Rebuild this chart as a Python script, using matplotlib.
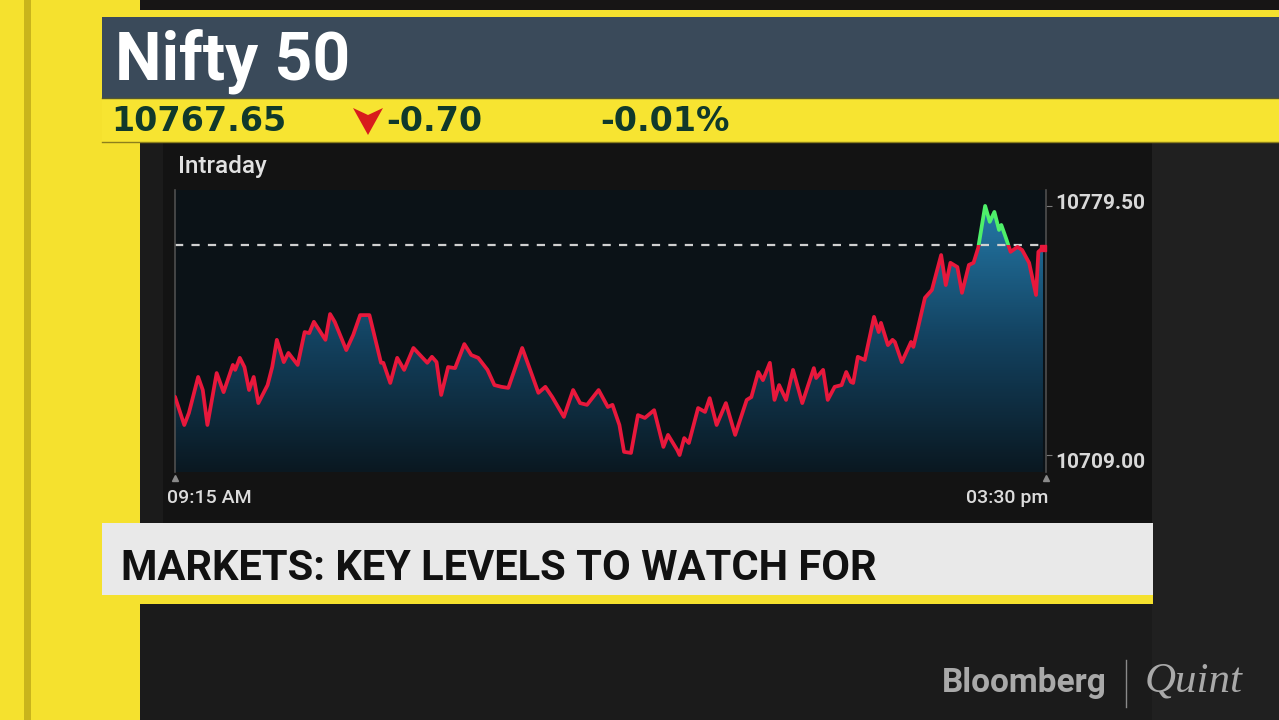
import numpy as np
import matplotlib.pyplot as plt
import matplotlib.transforms as mtransforms
from matplotlib.patches import Rectangle, Polygon
from matplotlib.colors import LinearSegmentedColormap

# quote header
index_name = 'Nifty 50'
last_price = 10767.65
change = -0.70
change_pct = -0.01
prev_close = last_price - change
day_high = 10779.50
day_low = 10709.00
banner = 'MARKETS: KEY LEVELS TO WATCH FOR'
time_labels = ['09:15 AM', '03:30 pm']

# intraday series, minutes after 09:15
minutes = [0, 4, 6, 10, 12, 14, 18, 21, 25, 26,
           28, 30, 32, 34, 36, 40, 42, 44, 47, 49,
           53, 56, 58, 60, 65, 67, 69, 74, 77, 80,
           84, 89, 90, 93, 96, 99, 103, 109, 111, 113,
           115, 118, 121, 125, 128, 131, 135, 138, 141, 144,
           150, 153, 157, 160, 163, 168, 172, 175, 178, 183,
           187, 189, 192, 194, 197, 200, 203, 207, 211, 213,
           217, 218, 220, 222, 226, 229, 231, 234, 238, 242,
           247, 249, 252, 254, 257, 259, 261, 264, 267, 271,
           276, 277, 280, 282, 285, 288, 290, 292, 293, 295,
           298, 302, 304, 305, 308, 310, 311, 314, 318, 319,
           321, 324, 327, 331, 333, 335, 338, 340, 343, 345,
           347, 350, 352, 354, 356, 357, 359, 361, 364, 366,
           369, 372, 373, 375]
levels = [10725.5, 10717.5, 10720.9, 10731.1, 10727.4, 10717.5, 10732.2, 10726.8, 10734.5, 10733.1,
          10736.5, 10733.9, 10727.4, 10731.1, 10723.7, 10728.8, 10733.9, 10741.6, 10735.3, 10737.9,
          10734.5, 10743.8, 10743.5, 10746.7, 10741.6, 10748.9, 10746.7, 10738.7, 10743.0, 10748.6,
          10748.6, 10735.1, 10735.1, 10729.4, 10736.5, 10733.1, 10739.3, 10735.1, 10736.8, 10735.3,
          10726.0, 10733.9, 10733.6, 10740.4, 10737.3, 10736.5, 10733.1, 10728.8, 10728.3, 10728.0,
          10739.3, 10733.9, 10726.6, 10728.3, 10725.4, 10719.8, 10727.4, 10723.7, 10723.2, 10727.4,
          10722.6, 10723.2, 10717.5, 10709.9, 10709.6, 10720.3, 10719.5, 10721.7, 10711.3, 10714.7,
          10710.4, 10709.0, 10713.8, 10712.4, 10722.3, 10721.2, 10725.1, 10717.5, 10723.7, 10714.7,
          10724.6, 10725.4, 10732.5, 10730.2, 10735.1, 10724.6, 10728.8, 10724.6, 10733.1, 10723.7,
          10733.6, 10730.8, 10733.1, 10724.6, 10728.3, 10728.8, 10732.5, 10729.7, 10729.4, 10736.8,
          10735.9, 10748.1, 10743.8, 10746.4, 10740.1, 10741.6, 10741.0, 10735.3, 10741.0, 10739.6,
          10745.0, 10753.5, 10755.7, 10765.6, 10757.1, 10763.4, 10762.2, 10754.9, 10762.8, 10763.4,
          10767.6, 10779.5, 10775.0, 10777.8, 10772.7, 10774.1, 10770.4, 10766.5, 10767.9, 10767.0,
          10763.4, 10754.3, 10766.5, 10767.65]

YELLOW = '#f5e12e'
fig = plt.figure(figsize=(12.79, 7.2), dpi=100)
fig.patch.set_facecolor('#1b1b1b')

# background layer in pixel coordinates
bg = fig.add_axes([0, 0, 1, 1], zorder=0)
bg.set_xlim(0, 1279)
bg.set_ylim(720, 0)
bg.axis('off')

def box(x, y, w, h, c, z=1):
    bg.add_patch(Rectangle((x, y), w, h, facecolor=c, edgecolor='none', zorder=z))

box(140, 0, 1139, 10, '#171515')
box(0, 0, 140, 720, YELLOW)
box(24, 0, 7, 720, '#c9b41c')
box(102, 10, 1177, 7, YELLOW)
box(102, 17, 1177, 81, '#3a4a5a')
box(102, 98, 1177, 44, '#f7e431')
bg.plot([102, 1279], [98, 98], color='#55582f', lw=1, zorder=2)
bg.plot([102, 1279], [142, 142], color='#8c7f1c', lw=1, zorder=2)
box(1152, 143, 127, 577, '#202020')
box(163, 143, 989, 382, '#131313')
box(102, 523, 1051, 72, '#e9e9e9')
box(102, 595, 1051, 9, YELLOW)

bg.text(115, 80, index_name, color='white', fontsize=47.5, fontweight='bold',
        family='Roboto', va='baseline', zorder=3)
val_col = '#10392b'
bg.text(111, 131, f'{last_price:.2f}', color=val_col, fontsize=24, fontweight='bold',
        family='DejaVu Sans', va='baseline', zorder=3)
bg.add_patch(Polygon([(353, 108), (368, 115), (383, 108), (368, 135)], closed=True,
                     facecolor='#d81c1c', edgecolor='none', zorder=3))
bg.text(386, 131, f'{change:.2f}', color=val_col, fontsize=24, fontweight='bold',
        family='DejaVu Sans', va='baseline', zorder=3)
bg.text(600, 131, f'{change_pct:.2f}%', color=val_col, fontsize=24, fontweight='bold',
        family='DejaVu Sans', va='baseline', zorder=3)
bg.text(178, 173, 'Intraday', color='#e2e2e2', fontsize=17.5, fontweight='medium',
        family='Roboto', va='baseline', zorder=3)
bg.text(121, 580, banner, color='#111111', fontsize=30, fontweight='bold',
        family='Roboto', va='baseline', zorder=3)
bg.text(942, 692, 'Bloomberg', color='#a9a9a9', fontsize=24, fontweight='bold',
        family='Roboto', va='baseline', zorder=3)
bg.plot([1126, 1126], [660, 707], color='#8a8a8a', lw=1, zorder=3)
bg.text(1145, 692, 'Quint', color='#a9a9a9', fontsize=31, style='italic',
        family='Liberation Serif', va='baseline', zorder=3)

# chart
ylo, yhi = 10704.2, 10784.0
xmax = 376.3
ax = fig.add_axes([175 / 1279, 1 - 472 / 720, 871 / 1279, 282 / 720], zorder=2)
ax.set_facecolor('#0b1217')

cmap = LinearSegmentedColormap.from_list('fill', ['#0a1821', '#134260', '#2479a8'])
grad = np.linspace(0, 1, 256).reshape(-1, 1)
im = ax.imshow(grad, extent=[0, xmax, ylo, day_high], origin='lower',
               aspect='auto', cmap=cmap, zorder=1)
area = ax.fill_between(minutes, levels, ylo, color='none', lw=0)
im.set_clip_path(area.get_paths()[0], transform=ax.transData)

ax.axhline(prev_close, color='#d0d0d0', lw=1.6, dashes=(3.7, 3.7), zorder=2.5)

red, = ax.plot(minutes, levels, color='#e8183c', lw=2.7, zorder=3,
               solid_joinstyle='round', solid_capstyle='round')
red.set_clip_path(Rectangle((0, ylo - 50), xmax, prev_close - ylo + 50,
                            transform=ax.transData))
green, = ax.plot(minutes, levels, color='#4ef06a', lw=2.7, zorder=3,
                 solid_joinstyle='round', solid_capstyle='round')
green.set_clip_path(Rectangle((0, prev_close), xmax, 100, transform=ax.transData))
ax.plot(minutes[-1], levels[-1], marker='s', ms=4, color='#e8183c', zorder=4,
        clip_on=False)

ax.set_xlim(0, xmax)
ax.set_ylim(ylo, yhi)

for s in ['top', 'bottom']:
    ax.spines[s].set_visible(False)
for s in ['left', 'right']:
    ax.spines[s].set_color('#4f4f4f')
    ax.spines[s].set_linewidth(1.2)

ax.yaxis.tick_right()
ax.set_yticks([day_low, day_high])
ax.set_yticklabels([f'{v:.2f}' for v in [day_low, day_high]], family='Roboto',
                   fontweight='bold')
ax.tick_params(axis='y', length=4, color='#7a7a7a', labelcolor='#d8d8d8',
               labelsize=15, pad=3)
ax.set_xticks([0, 375])
ax.set_xticklabels(time_labels, family='Roboto', fontweight='medium')
ax.tick_params(axis='x', length=0, labelcolor='#dcdcdc', labelsize=14, pad=12)

# nudge labels to where the broadcast graphic puts them
def nudge(lbl, dx, dy):
    lbl.set_transform(lbl.get_transform() +
                      mtransforms.ScaledTranslation(dx / 72, dy / 72, fig.dpi_scale_trans))

xl = ax.get_xticklabels()
xl[0].set_ha('left')
xl[1].set_ha('right')
nudge(xl[0], -6, 0)
nudge(xl[1], 4, 0)
yl = ax.get_yticklabels()
nudge(yl[0], 0, -4)
nudge(yl[1], 0, 3)

trans = mtransforms.blended_transform_factory(ax.transData, ax.transAxes)
ax.plot([0, xmax], [-0.022, -0.022], transform=trans, ls='none', marker='^',
        ms=5, color='#8a8a8a', clip_on=False)

fig.savefig('out.png', dpi=100, facecolor=fig.get_facecolor())
